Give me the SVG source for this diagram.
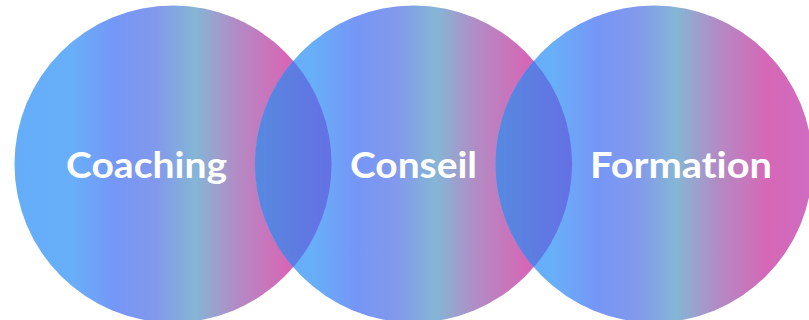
<svg xmlns="http://www.w3.org/2000/svg" width="809" height="320" viewBox="0 0 809 320">
  <defs>
    <linearGradient id="g" x1="0" y1="0" x2="1" y2="0">
      <stop offset="0" stop-color="#64adf9"/>
      <stop offset="0.18" stop-color="#68aff9"/>
      <stop offset="0.32" stop-color="#7596f6"/>
      <stop offset="0.45" stop-color="#8299ec"/>
      <stop offset="0.57" stop-color="#84b6d5"/>
      <stop offset="0.70" stop-color="#b28bc5"/>
      <stop offset="0.86" stop-color="#d667b6"/>
      <stop offset="1" stop-color="#cf6cc2"/>
    </linearGradient>
    <linearGradient id="lens" x1="0" y1="0" x2="1" y2="0">
      <stop offset="0" stop-color="#5689e0"/>
      <stop offset="1" stop-color="#6570e3"/>
    </linearGradient>
    <style>
      .c { fill: url(#g); }
      .l { fill: url(#lens); }
      .t { font-family: "Source Sans Pro", Lato, "Noto Sans", sans-serif; font-weight: 700; font-size: 36px; fill: #ffffff; font-variant-ligatures: none; font-feature-settings: "liga" 0; }
    </style>
  </defs>
  <g id="coaching">
    <circle class="c" cx="173" cy="164" r="158.5"/>
  </g>
  <g id="conseil">
    <circle class="c" cx="413.5" cy="164" r="158.5"/>
  </g>
  <g id="formation">
    <circle class="c" cx="654" cy="164" r="158.5"/>
  </g>
  <g id="overlaps">
    <path class="l" d="M293.25 60.7 A158.5 158.5 0 0 1 293.25 267.3 A158.5 158.5 0 0 1 293.25 60.7 Z"/>
    <path class="l" d="M533.75 60.7 A158.5 158.5 0 0 1 533.75 267.3 A158.5 158.5 0 0 1 533.75 60.7 Z"/>
  </g>
  <g id="labels">
    <text class="t" x="66" y="178" textLength="161" lengthAdjust="spacingAndGlyphs">Coaching</text>
    <text class="t" x="350" y="178" textLength="127" lengthAdjust="spacingAndGlyphs">Conseil</text>
    <text class="t" x="590" y="178" textLength="182" lengthAdjust="spacingAndGlyphs">Formation</text>
  </g>
</svg>
